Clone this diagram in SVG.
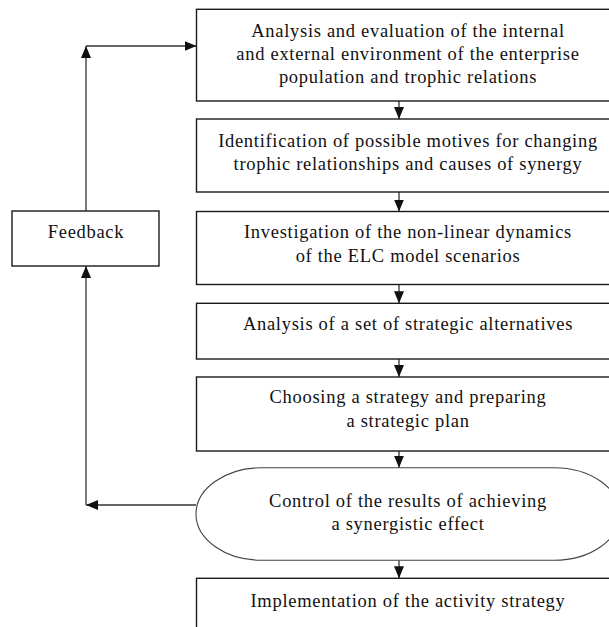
<svg xmlns="http://www.w3.org/2000/svg" width="609" height="627" viewBox="0 0 609 627">
<style>
.box{fill:#fff;stroke:#1a1a1a;stroke-width:1.4}
.stad{fill:#fff;stroke:#444;stroke-width:1.1}
.t{font-family:"Liberation Serif","Times New Roman",serif;font-size:18.5px;letter-spacing:0.7px;fill:#111;text-anchor:middle}
.c{fill:none;stroke:#333;stroke-width:1.3}
</style>
<defs>
<marker id="ah" markerUnits="userSpaceOnUse" markerWidth="12" markerHeight="12" viewBox="0 0 12 12" refX="12" refY="6" orient="auto">
<path d="M0,1 L12,6 L0,11 Z" fill="#111"/>
</marker>
</defs>
<rect width="609" height="627" fill="#fff"/>
<g id="connectors">
<path class="c" d="M399,101 V119" marker-end="url(#ah)"/>
<path class="c" d="M399,192 V211.5" marker-end="url(#ah)"/>
<path class="c" d="M399,284.5 V303.3" marker-end="url(#ah)"/>
<path class="c" d="M399,359 V377" marker-end="url(#ah)"/>
<path class="c" d="M399,451 V467.7" marker-end="url(#ah)"/>
<path class="c" d="M399,560.3 V578.3" marker-end="url(#ah)"/>
<path class="c" d="M196,505 H86" marker-end="url(#ah)"/>
<path class="c" d="M86,505 V266" marker-end="url(#ah)"/>
<path class="c" d="M86,211 V46" marker-end="url(#ah)"/>
<path class="c" d="M86,46 H196.5" marker-end="url(#ah)"/>
</g>
<g id="n1">
<rect class="box" x="196.5" y="9.3" width="424" height="91.7"/>
<text class="t" x="408" y="36.7">Analysis and evaluation of the internal</text>
<text class="t" x="408" y="59.5">and external environment of the enterprise</text>
<text class="t" x="408" y="82.7">population and trophic relations</text>
</g>
<g id="n2">
<rect class="box" x="196.5" y="119" width="424" height="73"/>
<text class="t" x="408" y="146.7">Identification of possible motives for changing</text>
<text class="t" x="408" y="170">trophic relationships and causes of synergy</text>
</g>
<g id="n3">
<rect class="box" x="196.5" y="211.5" width="424" height="73"/>
<text class="t" x="408" y="238.3">Investigation of the non-linear dynamics</text>
<text class="t" x="408" y="261.7">of the ELC model scenarios</text>
</g>
<g id="n4">
<rect class="box" x="196.5" y="303.3" width="424" height="55.7"/>
<text class="t" x="408" y="330">Analysis of a set of strategic alternatives</text>
</g>
<g id="n5">
<rect class="box" x="196.5" y="377" width="424" height="74"/>
<text class="t" x="408" y="403">Choosing a strategy and preparing</text>
<text class="t" x="408" y="426.7">a strategic plan</text>
</g>
<g id="n6">
<rect class="stad" x="196" y="467.7" width="424" height="92.6" rx="66" ry="46.3"/>
<text class="t" x="408" y="506.7">Control of the results of achieving</text>
<text class="t" x="408" y="530">a synergistic effect</text>
</g>
<g id="n7">
<rect class="box" x="196.5" y="578.3" width="424" height="60"/>
<text class="t" x="408" y="606.7">Implementation of the activity strategy</text>
</g>
<g id="feedback">
<rect class="box" x="12" y="211" width="147" height="55"/>
<text class="t" x="86" y="238">Feedback</text>
</g>
</svg>
